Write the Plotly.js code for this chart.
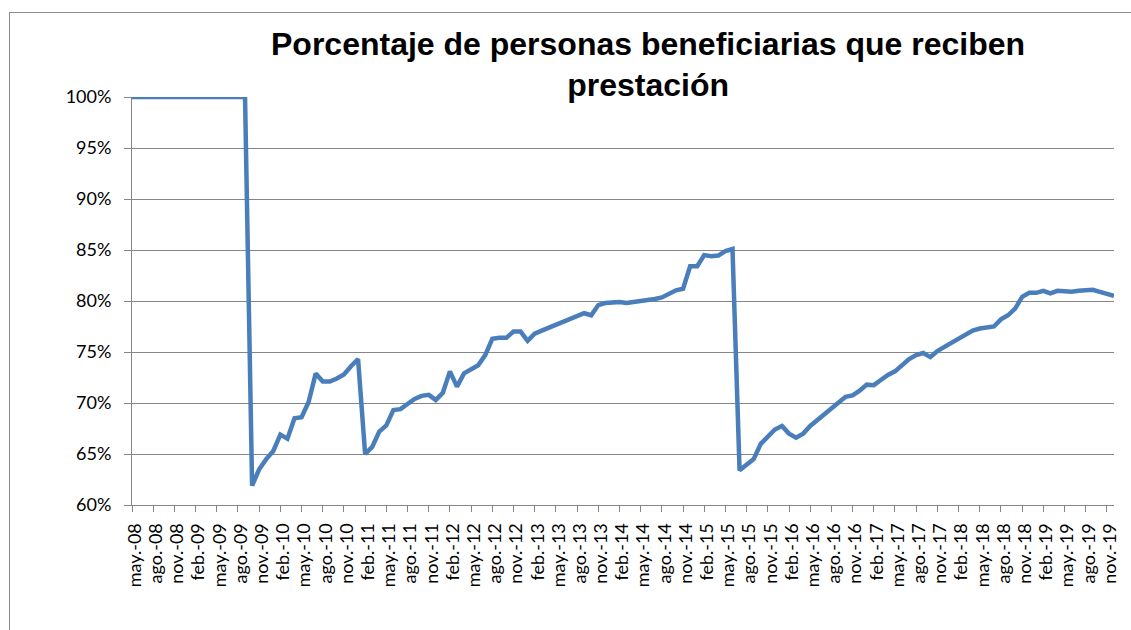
<!DOCTYPE html>
<html>
<head>
<meta charset="utf-8">
<script src="https://cdn.plot.ly/plotly-3.0.1.min.js"></script>
<style>
  html, body { margin: 0; padding: 0; background: #fff; overflow: hidden; }
  #wrap { position: relative; width: 1131px; height: 630px; }
  #chart { width: 1131px; height: 630px; }
  #frame { position: absolute; left: 9px; top: 12px; width: 1200px; height: 700px;
           border: 1px solid #8c8c8c; pointer-events: none; }
</style>
</head>
<body>
<div id="wrap">
  <div id="chart"></div>
  <div id="frame"></div>
</div>
<script>
// Month names (Spanish abbreviations) and the year span of the series
const monthNames = ['ene.', 'feb.', 'mar.', 'abr.', 'may.', 'jun.', 'jul.', 'ago.', 'sep.', 'oct.', 'nov.', 'dic.'];
const startYear = 2008;
const startMonth = 4;   // May (0-based)
// Percentage of beneficiaries receiving the benefit, monthly, may-08 .. dic-19
const porcentaje = [
  100, 100, 100, 100, 100, 100, 100, 100, 100, 100,
  100, 100, 100, 100, 100, 100, 100, 61.9, 63.5, 64.5,
  65.3, 66.9, 66.5, 68.5, 68.6, 70.1, 72.9, 72.1, 72.1, 72.4,
  72.8, 73.6, 74.3, 65.0, 65.7, 67.2, 67.8, 69.3, 69.4, 69.9,
  70.4, 70.7, 70.8, 70.3, 71.0, 73.1, 71.6, 72.9, 73.3, 73.7,
  74.7, 76.3, 76.4, 76.4, 77.0, 77.0, 76.1, 76.8, 77.1, 77.4,
  77.7, 78.0, 78.3, 78.6, 78.8, 78.6, 79.6, 79.8, 79.9, 79.9,
  79.8, 79.9, 80.0, 80.0, 80.2, 80.35, 80.7, 81.05, 81.2, 83.4,
  83.4, 84.5, 84.4, 84.45, 84.9, 85.1, 63.4, 64.0, 64.5, 66.0,
  66.7, 67.4, 67.75, 67.0, 66.6, 67.0, 67.75, 68.3, 68.9, 69.4,
  70.0, 70.6, 70.75, 71.2, 71.8, 71.75, 72.25, 72.75, 73.1, 73.7,
  74.3, 74.7, 74.9, 74.5, 75.1, 75.5, 75.9, 76.3, 76.8, 77.1,
  77.3, 77.35, 77.5, 78.2, 78.6, 79.25, 80.4, 80.8, 80.8, 81.0,
  80.75, 81.0, 80.9, 80.9, 81.0, 81.05, 81.1, 80.9, 80.7, 80.5
];
// Category labels, e.g. "may.-08"
const meses = porcentaje.map((_, i) => {
  const m = (startMonth + i) % 12;
  const y = startYear + Math.floor((startMonth + i) / 12);
  return monthNames[m] + '-' + String(y % 100).padStart(2, '0');
});
// Shown tick labels: every third month starting at may-08
const tickLabels = meses.filter((_, i) => i % 3 === 0);
const yTicks = [60, 65, 70, 75, 80, 85, 90, 95, 100];

const trace = {
  x: meses,
  y: porcentaje,
  type: 'scatter',
  mode: 'lines',
  line: { color: '#4a7ebb', width: 4.5 },
  hoverinfo: 'x+y'
};

const layout = {
  width: 1131,
  height: 630,
  paper_bgcolor: '#ffffff',
  plot_bgcolor: '#ffffff',
  margin: { l: 132, r: 17, t: 97, b: 125 },
  showlegend: false,
  title: {
    text: 'Porcentaje de personas beneficiarias que reciben<br>prestación',
    font: { family: 'Liberation Sans, Arial, sans-serif', size: 32, color: '#000000', weight: 'bold' },
    xref: 'container', x: 0.573, xanchor: 'center',
    yref: 'container', y: 0.913, yanchor: 'top'
  },
  xaxis: {
    type: 'category',
    range: [0, meses.length - 1],
    tickmode: 'array',
    tickvals: tickLabels,
    ticktext: tickLabels,
    tickangle: -90,
    ticks: 'outside',
    ticklen: 6,
    tickcolor: '#868686',
    tickwidth: 1,
    ticklabelstandoff: 4,
    ticklabelshift: 3,
    showgrid: false,
    showline: true,
    linecolor: '#868686',
    linewidth: 1,
    zeroline: false,
    tickfont: { family: 'Lato, sans-serif', size: 18, color: '#000000' },
    fixedrange: true
  },
  yaxis: {
    range: [60, 100],
    tickmode: 'array',
    tickvals: yTicks,
    ticktext: yTicks.map(v => v + '%'),
    ticks: 'outside',
    ticklen: 7,
    tickcolor: '#868686',
    tickwidth: 1,
    ticklabelstandoff: 9,
    showgrid: true,
    gridcolor: '#868686',
    gridwidth: 1,
    showline: true,
    linecolor: '#868686',
    linewidth: 1,
    zeroline: false,
    tickfont: { family: 'Lato, sans-serif', size: 18, color: '#000000' },
    fixedrange: true
  }
};

Plotly.newPlot('chart', [trace], layout, { displayModeBar: false, staticPlot: true });
</script>
</body>
</html>
